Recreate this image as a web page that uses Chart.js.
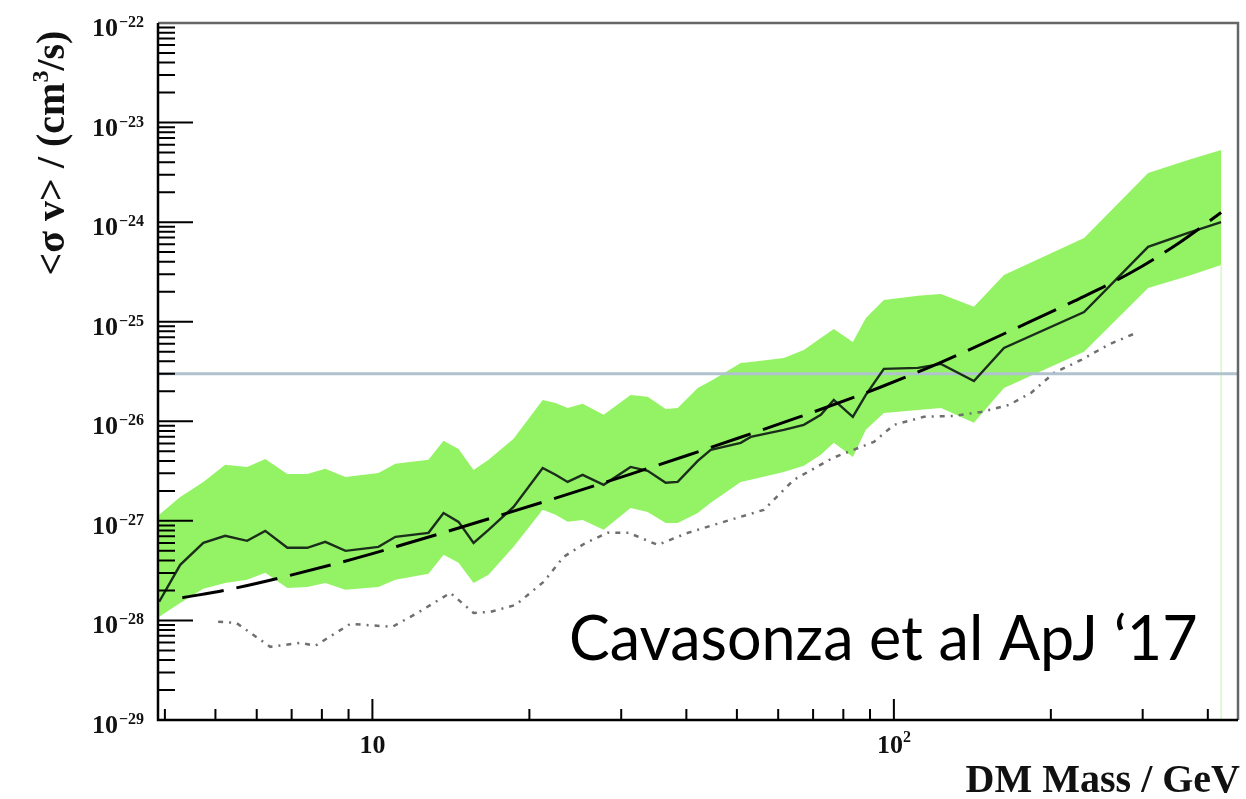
<!DOCTYPE html>
<html>
<head>
<meta charset="utf-8">
<title>DM annihilation limits</title>
<script src="https://cdn.jsdelivr.net/npm/chart.js@4.4.1/dist/chart.umd.min.js"></script>
<style>
  html, body { margin: 0; padding: 0; background: #fff; }
</style>
</head>
<body>
<canvas id="limits" width="1246" height="799"></canvas>
<script>
// DM mass grid (GeV) shared by the observed limit and the containment band
const masses = [3.9, 4.28, 4.74, 5.22, 5.75, 6.23, 6.87, 7.50, 8.12, 8.88,
  10.27, 11.07, 12.81, 13.69, 14.63, 15.63, 16.70, 18.65, 21.21, 22.45,
  23.68, 25.30, 27.76, 31.27, 33.72, 36.51, 38.50, 42.06, 44.55, 50.85,
  53.15, 61.50, 67.18, 72.43, 76.70, 83.42, 88.36, 95.67, 111.2, 123.1,
  142.4, 162.6, 231.6, 307.3, 366.7, 424.2];

// observed upper limit on <sigma v> (cm^3/s)
const observed = [1.54e-28, 3.62e-28, 6.01e-28, 7.07e-28, 6.30e-28, 7.94e-28, 5.36e-28, 5.36e-28, 6.15e-28, 5.00e-28,
  5.48e-28, 6.91e-28, 7.58e-28, 1.20e-27, 9.77e-28, 6.01e-28, 8.12e-28, 1.38e-27, 3.40e-27, 2.90e-27,
  2.46e-27, 2.90e-27, 2.30e-27, 3.48e-27, 3.18e-27, 2.41e-27, 2.46e-27, 4.00e-27, 5.16e-27, 6.07e-27,
  6.97e-27, 8.20e-27, 9.20e-27, 1.16e-26, 1.64e-26, 1.11e-26, 1.84e-26, 3.36e-26, 3.44e-26, 3.77e-26,
  2.54e-26, 5.46e-26, 1.25e-25, 5.64e-25, 7.79e-25, 1.00e-24];

// containment band edges
const bandUpper = [1.15e-27, 1.74e-27, 2.46e-27, 3.65e-27, 3.48e-27, 4.19e-27, 2.96e-27, 2.96e-27, 3.33e-27, 2.76e-27,
  3.03e-27, 3.74e-27, 4.10e-27, 6.36e-27, 5.28e-27, 3.25e-27, 4.10e-27, 6.66e-27, 1.64e-26, 1.53e-26,
  1.36e-26, 1.50e-26, 1.16e-26, 1.84e-26, 1.76e-26, 1.33e-26, 1.36e-26, 2.16e-26, 2.54e-26, 3.86e-26,
  3.95e-26, 4.33e-26, 5.21e-26, 6.88e-26, 8.47e-26, 6.27e-26, 1.09e-25, 1.65e-25, 1.82e-25, 1.90e-25,
  1.41e-25, 2.95e-25, 6.94e-25, 3.12e-24, 4.21e-24, 5.31e-24];
const bandLower = [1.09e-28, 1.50e-28, 2.08e-28, 2.38e-28, 2.56e-28, 3.01e-28, 2.12e-28, 2.17e-28, 2.38e-28, 2.03e-28,
  2.17e-28, 2.56e-28, 2.94e-28, 4.56e-28, 3.79e-28, 2.38e-28, 2.87e-28, 5.48e-28, 1.29e-27, 1.15e-27,
  9.77e-28, 1.02e-27, 8.12e-28, 1.35e-27, 1.23e-27, 9.54e-28, 9.54e-28, 1.20e-27, 1.52e-27, 2.46e-27,
  2.58e-27, 3.10e-27, 3.57e-27, 4.60e-27, 6.07e-27, 4.39e-27, 8.20e-27, 1.21e-26, 1.30e-26, 1.36e-26,
  9.64e-27, 2.16e-26, 4.98e-26, 2.18e-25, 2.88e-25, 3.72e-25];

// smooth expected limit (long dashes)
const expectedMass = [4.32, 5.29, 6.81, 9.28, 11.42, 15.56, 22.45, 31.27, 40.24, 50.85,
  65.71, 84.54, 94.4, 107.8, 123.1, 173.0, 221.6, 285.0, 350.9, 424.2];
const expected = [1.69e-28, 2.04e-28, 2.76e-28, 4.20e-28, 5.75e-28, 9.35e-28, 1.69e-27, 2.95e-27, 4.56e-27, 6.91e-27,
  1.10e-26, 1.77e-26, 2.21e-26, 2.92e-26, 3.90e-26, 8.79e-26, 1.61e-25, 3.12e-25, 6.11e-25, 1.25e-24];

// dash-dotted grey curve
const dottedMass = [5.06, 5.48, 6.37, 7.27, 7.77, 9.07, 10.92, 12.20, 14.11, 15.63,
  16.85, 18.82, 21.30, 23.26, 25.64, 28.25, 31.00, 35.24, 40.24, 47.18,
  56.30, 64.29, 76.37, 91.55, 100, 114.2, 129.8, 146.9, 166.3, 183.2,
  202.8, 228.6, 257.5, 291.4];
const dotted = [9.68e-29, 9.46e-29, 5.43e-29, 5.96e-29, 5.56e-29, 9.24e-29, 8.62e-29, 1.19e-28, 1.89e-28, 1.19e-28,
  1.22e-28, 1.43e-28, 2.44e-28, 4.35e-28, 6.01e-28, 7.58e-28, 7.58e-28, 5.74e-28, 7.58e-28, 9.77e-28,
  1.29e-27, 2.58e-27, 4.29e-27, 6.21e-27, 9.20e-27, 1.11e-26, 1.13e-26, 1.24e-26, 1.46e-26, 1.93e-26,
  3.06e-26, 4.13e-26, 5.85e-26, 7.72e-26];

const thermalRelic = 3e-26;
const xRange = [3.88, 457];
const yRange = [1e-29, 1e-22];
const xMajor = [[10, '10', ''], [100, '10', '2']];
const yExponents = [-22, -23, -24, -25, -26, -27, -28, -29];

const SERIF = '"Liberation Serif", "Times New Roman", serif';

const pairs = (xs, ys) => xs.map((x, i) => ({ x, y: ys[i] }));

const decor = {
  id: 'decor',
  afterDatasetsDraw(chart) {
    const { ctx, chartArea: a, scales: { x, y } } = chart;
    ctx.save();

    // tick marks, drawn inward from the left and bottom axes
    ctx.strokeStyle = '#000';
    ctx.lineWidth = 2;
    ctx.beginPath();
    yExponents.forEach(e => {
      const py = y.getPixelForValue(Math.pow(10, e));
      ctx.moveTo(a.left, py);
      ctx.lineTo(a.left + 35, py);
      if (e < -22) {
        for (let k = 2; k <= 9; k++) {
          const my = y.getPixelForValue(k * Math.pow(10, e));
          ctx.moveTo(a.left, my);
          ctx.lineTo(a.left + 17, my);
        }
      }
    });
    [1, 10, 100].forEach(d => {
      for (let k = 1; k <= 9; k++) {
        const v = k * d;
        if (v < xRange[0] || v > xRange[1]) continue;
        const px = x.getPixelForValue(v);
        ctx.moveTo(px, a.bottom);
        ctx.lineTo(px, a.bottom - (k === 1 ? 21 : 11));
      }
    });
    ctx.stroke();

    // frame
    ctx.lineWidth = 2.5;
    ctx.strokeStyle = '#666';
    ctx.beginPath();
    ctx.moveTo(a.left, a.top);
    ctx.lineTo(a.right, a.top);
    ctx.lineTo(a.right, a.bottom);
    ctx.stroke();
    ctx.strokeStyle = '#000';
    ctx.beginPath();
    ctx.moveTo(a.left, a.top);
    ctx.lineTo(a.left, a.bottom);
    ctx.lineTo(a.right, a.bottom);
    ctx.stroke();

    // y tick labels 10^-n
    ctx.fillStyle = '#111';
    ctx.textBaseline = 'alphabetic';
    yExponents.forEach(e => {
      const py = y.getPixelForValue(Math.pow(10, e));
      ctx.font = 'bold 26px ' + SERIF;
      ctx.textAlign = 'right';
      ctx.fillText('10', 118, py + 13);
      ctx.font = 'bold 16px ' + SERIF;
      ctx.textAlign = 'left';
      ctx.fillText('\u2212' + String(-e), 119, py + 4);
    });

    // x tick labels
    xMajor.forEach(([v, base, sup]) => {
      const px = x.getPixelForValue(v);
      ctx.font = 'bold 26px ' + SERIF;
      const bw = ctx.measureText(base).width;
      ctx.font = 'bold 16px ' + SERIF;
      const sw = sup ? ctx.measureText(sup).width : 0;
      const x0 = px - (bw + sw) / 2;
      ctx.textAlign = 'left';
      ctx.font = 'bold 26px ' + SERIF;
      ctx.fillText(base, x0, 753);
      if (sup) {
        ctx.font = 'bold 16px ' + SERIF;
        ctx.fillText(sup, x0 + bw, 742);
      }
    });

    // axis titles
    ctx.font = 'bold 40px ' + SERIF;
    ctx.textAlign = 'right';
    ctx.fillText('DM Mass / GeV', 1240, 792);

    ctx.save();
    ctx.translate(64, 153);
    ctx.rotate(-Math.PI / 2);
    const parts = [['<\u03c3 v> / (cm', 40, 0], ['3', 24, -16], ['/s)', 40, 0]];
    let total = 0;
    parts.forEach(([t, s]) => { ctx.font = 'bold ' + s + 'px ' + SERIF; total += ctx.measureText(t).width; });
    let cx = -total / 2;
    ctx.textAlign = 'left';
    parts.forEach(([t, s, dy]) => {
      ctx.font = 'bold ' + s + 'px ' + SERIF;
      ctx.fillText(t, cx, dy);
      cx += ctx.measureText(t).width;
    });
    ctx.restore();

    // reference note
    ctx.font = '400 61px Lato, "Open Sans", sans-serif';
    ctx.textAlign = 'left';
    ctx.fillStyle = '#000';
    ctx.fillText('Cavasonza et al ApJ \u201817', 569, 660);

    ctx.restore();
  }
};

new Chart(document.getElementById('limits'), {
  type: 'line',
  data: {
    datasets: [
      {
        data: pairs(masses, bandUpper),
        borderWidth: 0,
        pointRadius: 0,
        backgroundColor: 'rgb(148, 243, 100)',
        fill: 1,
        order: 10
      },
      {
        data: pairs(masses, bandLower),
        borderWidth: 0,
        pointRadius: 0,
        fill: false,
        order: 11
      },
      {
        // right edge of the band, down to the axis
        data: [{ x: masses[masses.length - 1], y: yRange[0] }, { x: masses[masses.length - 1], y: bandLower[bandLower.length - 1] }],
        borderColor: 'rgb(190, 245, 165)',
        borderWidth: 1,
        pointRadius: 0,
        order: 9
      },
      {
        data: pairs(dottedMass, dotted),
        borderColor: '#6f6f6f',
        borderWidth: 2.5,
        borderDash: [5, 6, 2, 6],
        pointRadius: 0,
        order: 6
      },
      {
        data: [{ x: xRange[0], y: thermalRelic }, { x: xRange[1], y: thermalRelic }],
        borderColor: 'rgb(176, 194, 205)',
        borderWidth: 3,
        pointRadius: 0,
        order: 5
      },
      {
        data: pairs(masses, observed),
        borderColor: '#1b2e1b',
        borderWidth: 2.4,
        pointRadius: 0,
        order: 3
      },
      {
        data: pairs(expectedMass, expected),
        borderColor: '#000',
        borderWidth: 3,
        borderDash: [42, 13],
        cubicInterpolationMode: 'monotone',
        pointRadius: 0,
        order: 2
      }
    ]
  },
  options: {
    responsive: false,
    animation: false,
    layout: { padding: { left: 158, right: 8, top: 23, bottom: 79 } },
    plugins: { legend: { display: false }, tooltip: { enabled: false } },
    scales: {
      x: { type: 'logarithmic', min: xRange[0], max: xRange[1], display: false },
      y: { type: 'logarithmic', min: yRange[0], max: yRange[1], display: false }
    }
  },
  plugins: [decor]
});
</script>
</body>
</html>
